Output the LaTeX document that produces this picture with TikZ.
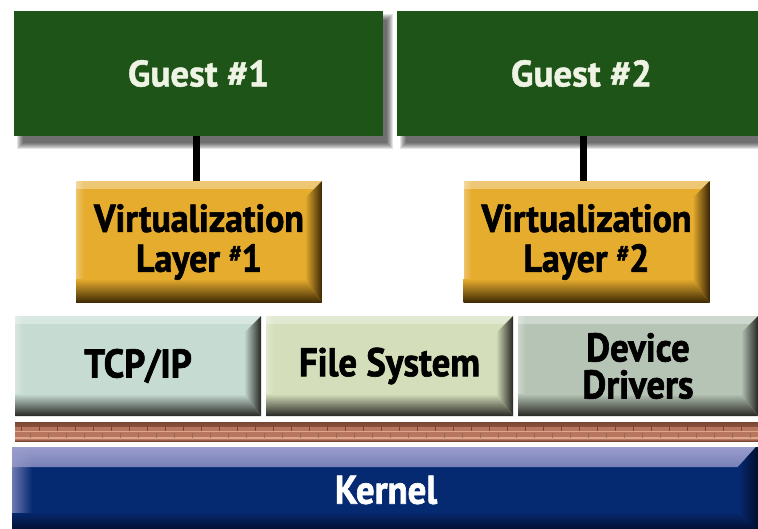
\documentclass[tikz,border=0pt]{standalone}
\usepackage{fontspec}
\setmainfont{PT Sans}
\newfontfamily\guestfont[FakeBold=1.2]{PT Sans}
\newfontfamily\narrowfont[FakeStretch=0.92, FakeBold=1.6]{PT Sans}
\usetikzlibrary{calc,backgrounds,fadings}

\definecolor{guestgreen}{HTML}{1F5418}
\definecolor{guesttext}{HTML}{EEF3E4}
\definecolor{vlgold}{HTML}{E6AC2E}
\definecolor{vldark}{HTML}{3A2604}
\definecolor{tcpcol}{HTML}{C6DCD3}
\definecolor{fscol}{HTML}{D4DEBA}
\definecolor{ddcol}{HTML}{B5C4B5}
\definecolor{edgedark}{HTML}{262622}
\definecolor{brick}{HTML}{B9765E}
\definecolor{mortar}{HTML}{DDA78E}
\definecolor{brickdark}{HTML}{7A4634}
\definecolor{kernelnavy}{HTML}{062A72}
\definecolor{kernellight}{HTML}{9A9CCC}
\definecolor{kerneldeep}{HTML}{020B26}

\tikzset{
  box/.style={inner sep=0pt, align=center, anchor=center},
  guestbox/.style={box, fill=guestgreen, text=guesttext,
    font=\guestfont\fontsize{37}{40}\selectfont\bfseries,
    minimum width=369pt, minimum height=125pt},
  % raised tile: light top-left edge, dark bottom and right bevel
  bevel/.style n args={4}{path picture={
    \fill[white, opacity=0.35, path fading=south]
      (path picture bounding box.north west) rectangle
      ([yshift=-8pt]path picture bounding box.north east);
    \fill[white, opacity=0.3, path fading=east]
      (path picture bounding box.north west) rectangle
      ([xshift=8pt]path picture bounding box.south west);
    \shade[top color=#1, bottom color=#2]
      (path picture bounding box.south west) --
      (path picture bounding box.south east) --
      ([xshift=-#4, yshift=#3]path picture bounding box.south east) --
      ([yshift=#3]path picture bounding box.south west) -- cycle;
    \shade[left color=#1, right color=#2]
      (path picture bounding box.north east) --
      (path picture bounding box.south east) --
      ([xshift=-#4, yshift=#3]path picture bounding box.south east) --
      ([xshift=-#4, yshift=-#4]path picture bounding box.north east) -- cycle;
  }},
  vlbox/.style={box, fill=vlgold, text=black,
    font=\narrowfont\fontsize{39}{40}\selectfont\bfseries,
    minimum width=246pt, minimum height=122pt,
    bevel={vlgold}{vldark}{24pt}{17pt}},
  sysbox/.style={box, fill=#1, text=black,
    font=\narrowfont\fontsize{40}{37}\selectfont\bfseries,
    minimum width=246pt, minimum height=100pt,
    bevel={#1}{edgedark}{22pt}{17pt}},
  link/.style={draw=black, line width=7pt}
}
\newcommand{\suphash}{\raisebox{0.26em}{\fontsize{24}{24}\selectfont\#}}

\begin{document}
\begin{tikzpicture}[x=1pt, y=-1pt]
\useasboundingbox (0,0) rectangle (758,529);

% guests
\node[guestbox] (g1) at (198.5,73.5) {Guest \#1};
\node[guestbox] (g2) at (581.5,73.5) {Guest \#2};

% virtualization layers
\node[vlbox] (v1) at (199,242) {Virtualization\\Layer \suphash1};
\node[vlbox] (v2) at (586.5,242) {Virtualization\\Layer \suphash2};

% system services
\node[sysbox=tcpcol] (tcp) at (138,366) {TCP/IP};
\node[sysbox=fscol, minimum width=247pt] (fs) at (389.5,366) {File System};
\node[sysbox=ddcol, minimum width=240pt] (dd) at (638,366) {Device\\Drivers};

% brick wall strip
\node[box, fill=brick, minimum width=743pt, minimum height=19pt,
  path picture={
    \shade[top color=brickdark, bottom color=brick]
      (path picture bounding box.north west) rectangle
      ([yshift=-4pt]path picture bounding box.north east);
    \draw[mortar, line width=1.6pt]
      ([yshift=-9.5pt]path picture bounding box.north west) --
      ([yshift=-9.5pt]path picture bounding box.north east);
    \draw[mortar, line width=1.2pt]
      ([yshift=3pt]path picture bounding box.south west) --
      ([yshift=3pt]path picture bounding box.south east);
    \foreach \i in {0,...,41}{
      \draw[brickdark, line width=1pt]
        ([xshift=\i*18pt+6pt, yshift=-3pt]path picture bounding box.north west) --
        ++(0,-6pt);
      \draw[brickdark!80, line width=1pt]
        ([xshift=\i*18pt+15pt, yshift=-10.5pt]path picture bounding box.north west) --
        ++(0,-5.5pt);
    }
    \shade[top color=brick, bottom color=brickdark]
      ([yshift=2pt]path picture bounding box.south west) rectangle
      (path picture bounding box.south east);
  }] (wall) at (386.5,431.5) {};

% kernel
\node[box, fill=kernelnavy, text=white,
  font=\narrowfont\fontsize{40}{40}\selectfont\bfseries,
  minimum width=748pt, minimum height=86pt,
  path picture={
    \shade[top color=kernellight, bottom color=kernelnavy]
      (path picture bounding box.north west) --
      ([xshift=-4pt]path picture bounding box.north east) --
      ([xshift=-22pt, yshift=-20pt]path picture bounding box.north east) --
      ([yshift=-20pt]path picture bounding box.north west) -- cycle;
    \shade[top color=kernelnavy, bottom color=kerneldeep]
      ([yshift=22pt]path picture bounding box.south west) rectangle
      (path picture bounding box.south east);
    \fill[kernellight, opacity=0.7, path fading=east]
      (path picture bounding box.north west) rectangle
      ([xshift=20pt, yshift=20pt]path picture bounding box.south west);
    \shade[left color=kernelnavy, right color=kerneldeep]
      ([xshift=-4pt]path picture bounding box.north east) --
      (path picture bounding box.north east) --
      (path picture bounding box.south east) --
      ([xshift=-22pt, yshift=20pt]path picture bounding box.south east) --
      ([xshift=-22pt, yshift=-20pt]path picture bounding box.north east) -- cycle;
  }] (kern) at (386,490) {\raisebox{-4pt}{Kernel}};

% connectors between guests and their virtualization layers
\draw[link] ([xshift=-3pt]v1.north) -- ([xshift=-3pt]v1.north |- g1.south);
\draw[link] ([xshift=-3pt]v2.north) -- ([xshift=-3pt]v2.north |- g2.south);

% drop shadows under the guest boxes
\begin{scope}[on background layer]
  \fill[white] (0,0) rectangle (758,529);
  \foreach \k in {0,...,6}{
    \fill[black, opacity=0.11]
      ($(g1.north west)+(3+\k,3+\k)$) rectangle ($(g1.south east)+(10-\k,13-\k)$);
    \fill[black, opacity=0.11]
      ($(g2.north west)+(3+\k,3+\k)$) rectangle ($(g2.south east)+(10-\k,13-\k)$);
  }
\end{scope}
\end{tikzpicture}
\end{document}
